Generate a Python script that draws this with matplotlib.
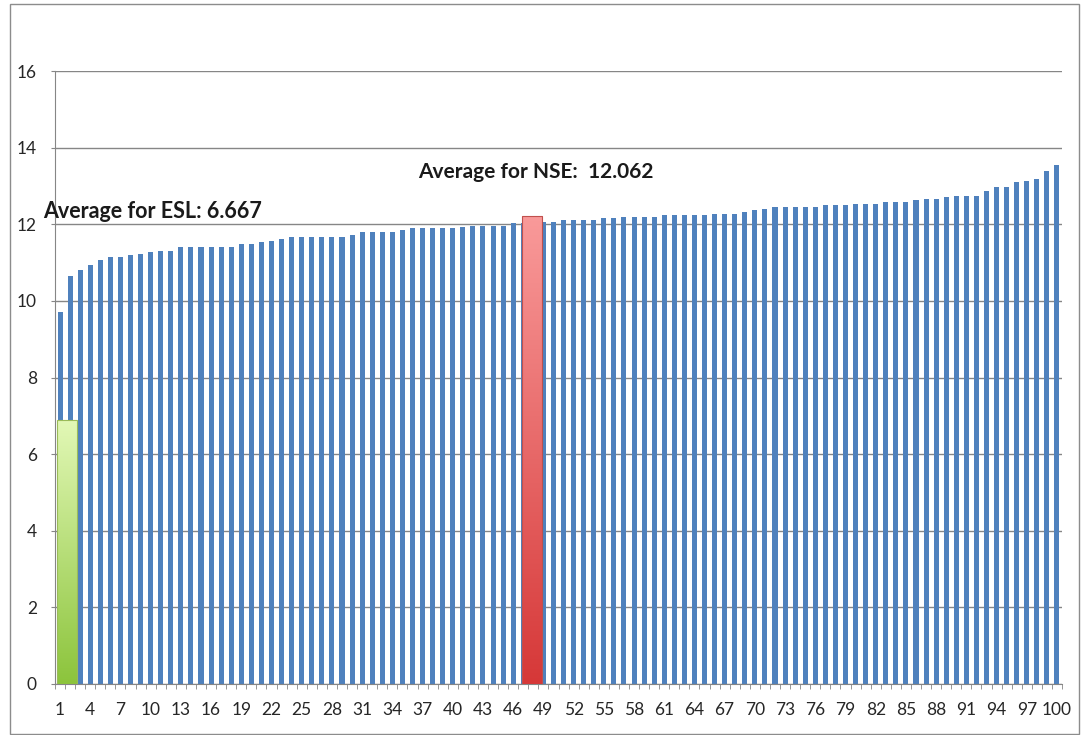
import numpy as np
import matplotlib
matplotlib.use("Agg")
import matplotlib.pyplot as plt
from matplotlib.patches import Rectangle

plt.rcParams['font.family'] = ['Lato', 'DejaVu Sans']

# scores per position (sorted)
categories = list(range(1, 101))
scores = [
    9.70, 10.64, 10.81, 10.94, 11.06, 11.14, 11.14, 11.19, 11.22, 11.27,
    11.31, 11.31, 11.40, 11.40, 11.40, 11.40, 11.40, 11.40, 11.48, 11.48,
    11.53, 11.57, 11.61, 11.68, 11.68, 11.68, 11.68, 11.68, 11.68, 11.72,
    11.81, 11.81, 11.81, 11.81, 11.86, 11.90, 11.90, 11.90, 11.90, 11.90,
    11.94, 11.96, 11.96, 11.96, 11.96, 12.03, 12.04, 12.05, 12.07, 12.07,
    12.12, 12.12, 12.12, 12.12, 12.16, 12.16, 12.20, 12.20, 12.20, 12.20,
    12.24, 12.24, 12.24, 12.24, 12.24, 12.28, 12.28, 12.28, 12.32, 12.36,
    12.40, 12.45, 12.45, 12.45, 12.45, 12.45, 12.49, 12.49, 12.49, 12.53,
    12.53, 12.53, 12.58, 12.58, 12.58, 12.62, 12.66, 12.66, 12.71, 12.75,
    12.75, 12.75, 12.87, 12.96, 12.96, 13.09, 13.13, 13.18, 13.38, 13.55,
]

# highlighted averages: position, drawn height, label
avg_pos = [1.7, 47.9]
avg_height = [6.89, 12.22]
avg_labels = ['Average for ESL: 6.667', 'Average for NSE:  12.062']

yticks = list(range(0, 17, 2))
xticks = list(range(1, 101, 3))

W, H = 1086, 735
fig = plt.figure(figsize=(W / 100, H / 100), dpi=100)
ax = fig.add_axes([55 / W, 1 - 684 / H, (1062 - 55) / W, (684 - 71) / H])

grey = '#868686'
ax.set_axisbelow(True)
ax.yaxis.grid(True, color=grey, lw=1)

ax.bar(categories, scores, width=0.5, color='#4F81BD', zorder=2)

# gradient-filled average bars
grads = [('#E2F8B6', '#8CC43C', '#9BBB59'), ('#F99A9A', '#D63838', '#C0504D')]
for x, h, (top, bot, edge) in zip(avg_pos, avg_height, grads):
    b = ax.bar(x, h, width=2.0, color='none', edgecolor=edge, lw=0.8, zorder=4)[0]
    cmap = matplotlib.colors.LinearSegmentedColormap.from_list('g', [bot, top])
    grad = np.linspace(0, 1, 256).reshape(-1, 1)
    im = ax.imshow(grad, cmap=cmap, origin='lower', aspect='auto',
                   extent=[x - 1, x + 1, 0, h], zorder=3)
    im.set_clip_path(b)

ax.set_xlim(0.5, 100.5)
ax.set_ylim(0, 16)

ax.set_yticks(yticks)
ax.set_xticks(xticks)
ax.set_xticklabels([str(v) for v in xticks])
ax.set_xticks(np.arange(0.5, 101, 1), minor=True)
ax.tick_params(axis='y', length=3, color=grey, pad=10, labelsize=12.5, labelcolor='#262626')
ax.tick_params(axis='x', which='major', length=0, pad=13, labelsize=12.5, labelcolor='#262626')
ax.tick_params(axis='x', which='minor', length=3.6, color=grey)

for s in ['top', 'right']:
    ax.spines[s].set_visible(False)
for s in ['left', 'bottom']:
    ax.spines[s].set_color(grey)

ax.text(-0.69, 12.32, avg_labels[0], fontsize=15.5, fontweight='bold',
        ha='left', va='center', color='#1a1a1a', zorder=5)
ax.text(36.55, 13.36, avg_labels[1], fontsize=15, fontweight='bold',
        ha='left', va='center', color='#1a1a1a', zorder=5)

# outer chart border
fig.patches.append(Rectangle((10 / W, 1 - 734 / H), 1069 / W, 730 / H,
                             transform=fig.transFigure, fill=False,
                             edgecolor='#8c8c8c', lw=1))

fig.savefig('out.png', dpi=100)
